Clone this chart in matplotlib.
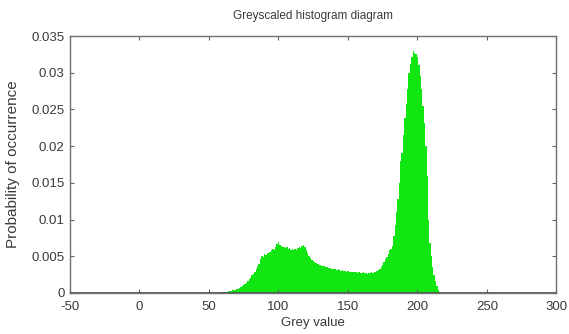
import numpy as np
import matplotlib
matplotlib.use("Agg")
import matplotlib.pyplot as plt

plt.rcParams['font.family'] = ['Liberation Sans', 'DejaVu Sans']
plt.rcParams['axes.unicode_minus'] = False

# grey levels with non-zero counts
grey_start = 55
probs = [
    0.00003, 0.00004, 0.00004, 0.00005, 0.00006, 0.00008, 0.0001, 0.00012, 0.00015, 0.0002,   # 55-64
    0.00024, 0.0003, 0.00033, 0.0004, 0.00045, 0.0005, 0.0006, 0.0007, 0.0008, 0.0009,       # 65-74
    0.00105, 0.0012, 0.0014, 0.0016, 0.0019, 0.0021, 0.0024, 0.0026, 0.0029, 0.0032,         # 75-84
    0.0036, 0.0040, 0.0046, 0.0050, 0.0049, 0.0053, 0.0052, 0.0055, 0.0054, 0.0056,          # 85-94
    0.0058, 0.0060, 0.0059, 0.0063, 0.0066, 0.0069, 0.0065, 0.0064, 0.0062, 0.0063,          # 95-104
    0.0061, 0.0062, 0.0060, 0.0061, 0.0059, 0.0060, 0.0058, 0.0060, 0.0059, 0.0061,          # 105-114
    0.0062, 0.0061, 0.0064, 0.0065, 0.0062, 0.0058, 0.0054, 0.0050, 0.0047, 0.0045,          # 115-124
    0.0044, 0.0042, 0.0041, 0.0040, 0.0039, 0.0038, 0.0037, 0.0037, 0.0036, 0.0035,          # 125-134
    0.0035, 0.0034, 0.0034, 0.0033, 0.0033, 0.0032, 0.0032, 0.0031, 0.0032, 0.0031,          # 135-144
    0.0030, 0.0031, 0.0030, 0.0030, 0.0029, 0.0030, 0.0029, 0.0029, 0.0028, 0.0029,          # 145-154
    0.0028, 0.0028, 0.0027, 0.0028, 0.0027, 0.0027, 0.0028, 0.0027, 0.0027, 0.0026,          # 155-164
    0.0027, 0.0027, 0.0028, 0.0027, 0.0028, 0.0029, 0.0030, 0.0031, 0.0033, 0.0035,          # 165-174
    0.0038, 0.0042, 0.0046, 0.0049, 0.0053, 0.0058, 0.0060, 0.0064, 0.0078, 0.0092,          # 175-184
    0.0110, 0.0128, 0.0150, 0.0180, 0.0190, 0.0215, 0.0238, 0.0258, 0.0278, 0.0300,          # 185-194
    0.0312, 0.0322, 0.0330, 0.0327, 0.0325, 0.0322, 0.0310, 0.0295, 0.0278, 0.0255,          # 195-204
    0.0232, 0.0200, 0.0160, 0.0100, 0.0068, 0.0050, 0.0035, 0.0025, 0.0016, 0.0009,          # 205-214
    0.0004, 0.0001,                                                                          # 215-216
]
grey = np.arange(grey_start, grey_start + len(probs))

xticks = [-50, 0, 50, 100, 150, 200, 250, 300]
yticks = [0, 0.005, 0.01, 0.015, 0.02, 0.025, 0.03, 0.035]
ytick_labels = ['0', '0.005', '0.01', '0.015', '0.02', '0.025', '0.03', '0.035']

fig = plt.figure(figsize=(5.69, 3.34), dpi=100)
ax = fig.add_axes([0.123, 0.123, 0.855, 0.769])

# bars of width 1 drawn as one filled staircase so no seams show
edges = np.append(grey - 0.5, grey[-1] + 0.5)
ax.stairs(probs, edges, fill=True, color='#12e612', linewidth=0)
ax.axhline(0, color='#505050', lw=1.2, zorder=3)

ax.set_xlim(-50, 300)
ax.set_ylim(0, 0.035)
ax.set_xticks(xticks)
ax.set_yticks(yticks)
ax.set_yticklabels(ytick_labels)

tc = '#3a3a3a'
ax.tick_params(direction='in', length=3, width=0.8, color='#606060',
               top=True, right=True, labelsize=9.5, labelcolor=tc)
ax.tick_params(axis='x', pad=6)
ax.tick_params(axis='y', pad=4)
for s in ax.spines.values():
    s.set_color('#707070')
    s.set_linewidth(1.0)

ax.set_title('Greyscaled histogram diagram', fontsize=8.5, color=tc, pad=12)
ax.set_xlabel('Grey value', fontsize=9.5, color=tc, labelpad=3)
ax.set_ylabel('Probability of occurrence', fontsize=11, color=tc, labelpad=8)

fig.savefig('out.png', dpi=100)
